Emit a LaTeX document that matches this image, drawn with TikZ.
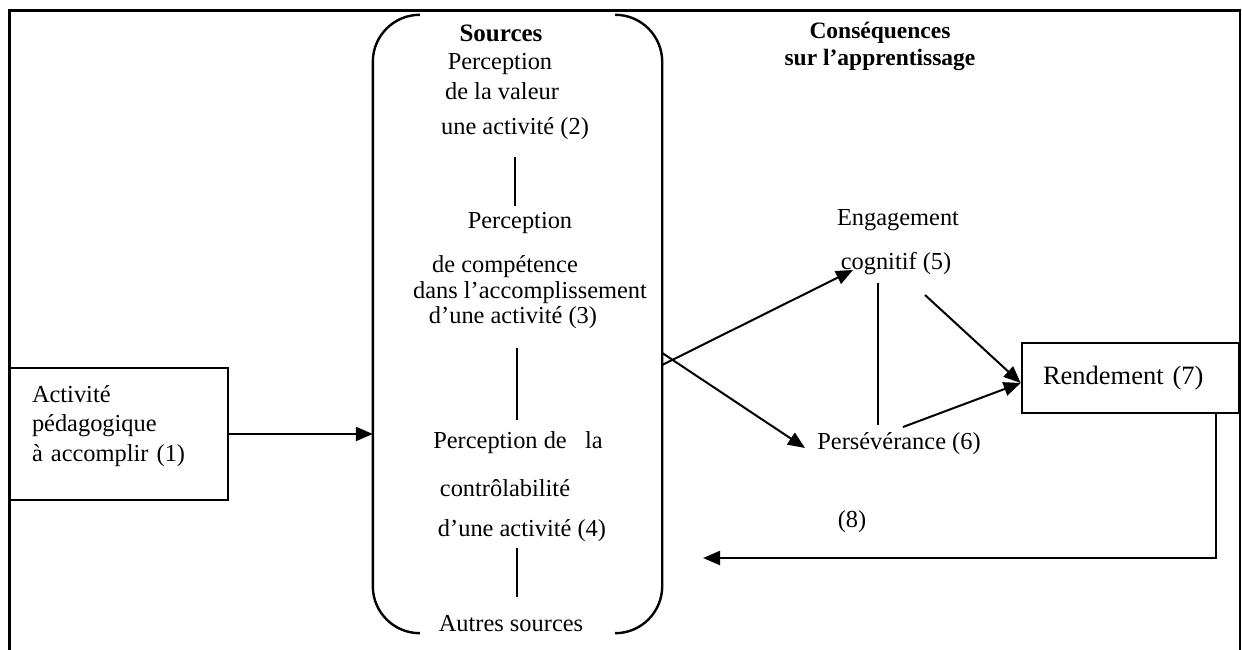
\documentclass[tikz,border=0pt]{standalone}
\usepackage{fontspec}
\setmainfont{Liberation Serif}
\usetikzlibrary{arrows.meta,calc}
\begin{document}
\begin{tikzpicture}[x=1pt,y=1pt,
  txt/.style={inner sep=0pt, font=\fontsize{24.4}{29.3}\selectfont},
  hd/.style={inner sep=0pt, font=\fontsize{23.5}{27}\selectfont\bfseries, align=center},
  con/.style={line width=2pt},
  arr/.style={line width=2pt, -{Triangle[length=17pt,width=14pt]}},
  boxed/.style={draw, line width=2.6pt, inner sep=0pt}]
\useasboundingbox (0,0) rectangle (1242,650);
% frame
\draw[line width=3pt] (8,639.5) -- (1240.5,639.5);
\draw[line width=2.5pt] (9.5,641) -- (9.5,0);
\draw[line width=2pt] (1239.5,641) -- (1239.5,0);
% sources bracket
\node[minimum width=289pt, minimum height=618pt, inner sep=0pt] (src) at (517.5,326) {};
\draw[line width=2.4pt] (src.north west) ++(0,-47) -- ($(src.south west)+(0,47)$) arc(180:270:47);
\draw[line width=2.4pt] ($(src.north west)+(0,-47)$) arc(180:90:47);
\draw[line width=2.4pt] ($(src.north east)+(-47,0)$) arc(90:0:47) -- ($(src.south east)+(0,47)$) arc(0:-90:47);
% headings
\node[hd, font=\fontsize{25}{27}\selectfont\bfseries] (hsrc) at (501,617) {Sources};
\node[hd] (hcons) at (880,604) {Conséquences\\sur l’apprentissage};
% sources texts
\node[txt] (p2a) at (500,586) {Perception};
\node[txt] (p2b) at (502,559) {de la valeur};
\node[txt] (p2c) at (515,521) {une activité (2)};
\node[txt] (p3a) at (520,427) {Perception};
\node[txt] (p3b) at (505,383) {de compétence};
\node[txt] (p3c) at (530,357) {dans l’accomplissement};
\node[txt] (p3d) at (513,332) {d’une activité (3)};
\node[txt] (p4a) at (518,207) {Perception de\ \ \ la};
\node[txt] (p4b) at (505,162) {contrôlabilité};
\node[txt] (p4c) at (522,119) {d’une activité (4)};
\node[txt] (p5) at (511,26) {Autres sources};
\draw[con] (515,493) -- (515,444);
\draw[con] (517,302) -- (517,230);
\draw[con] (517,102) -- (517,53);
% left box
\node[boxed, minimum width=218pt, minimum height=132pt, text width=174pt, align=left, inner xsep=22pt, font=\fontsize{24.4}{29.3}\selectfont] (act) at (119,216) {Activité\\pédagogique\\à accomplir (1)\\[-8pt]\mbox{}};
\draw[arr] (act.east) -- (act.east -| src.west);
% consequences
\node[txt] (engA) at (898,430) {Engagement};
\node[txt] (eng) at (896,386) {cognitif (5)};
\node[txt] (pers) at (899,206) {Persévérance (6)};
\coordinate (s1) at ($(src.east)+(0,-41)$);
\coordinate (s2) at ($(src.east)+(0,-29)$);
\coordinate (e1) at (853,380);
\coordinate (e2) at (805,202);
\draw[arr] (s1) -- (e1);
\draw[arr] (s2) -- (e2);
\draw[con] (878,367) -- (878,225);
% rendement
\node[boxed, minimum width=217pt, minimum height=70pt, text width=175pt, align=left, inner xsep=21pt, font=\fontsize{26.5}{30}\selectfont] (rend) at (1130.5,272) {Rendement (7)};
\coordinate (c1) at (925,355);
\coordinate (c2) at (903,223);
\draw[arr] (c1) -- ([yshift=-5pt]rend.west);
\draw[arr] (c2) -- ([yshift=-5pt]rend.west);
% feedback
\coordinate (fb) at (703,92);
\draw[arr] (1216,0 |- rend.south) -- (1216,92) -- (fb);
\node[txt] (l8) at (852,128) {(8)};
\end{tikzpicture}
\end{document}
